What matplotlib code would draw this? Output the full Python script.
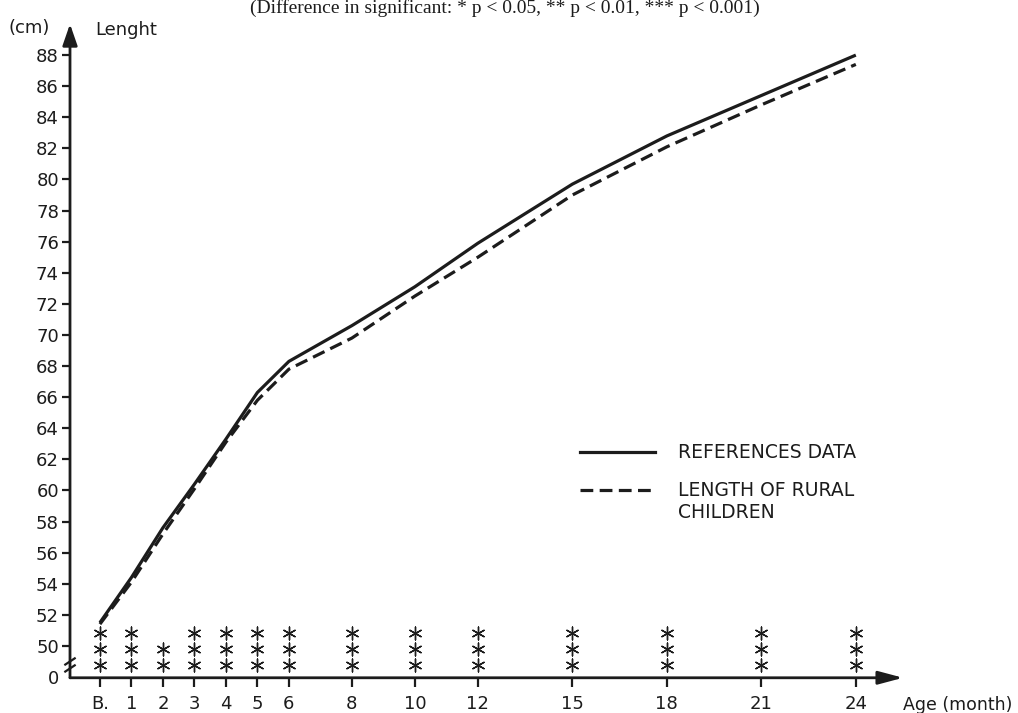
import matplotlib
matplotlib.use("Agg")
import matplotlib.pyplot as plt
from matplotlib.lines import Line2D

# data
months = [0, 1, 2, 3, 4, 5, 6, 8, 10, 12, 15, 18, 21, 24]
month_labels = ["B.", "1", "2", "3", "4", "5", "6", "8", "10", "12", "15", "18", "21", "24"]
reference_len = [51.5, 54.4, 57.6, 60.4, 63.3, 66.3, 68.3, 70.6, 73.1, 75.9, 79.7, 82.8, 85.4, 88.0]
rural_len = [51.4, 54.1, 57.2, 60.1, 63.1, 65.8, 67.8, 69.8, 72.5, 75.0, 79.0, 82.1, 84.8, 87.4]
stars = [3, 3, 2, 3, 3, 3, 3, 3, 3, 3, 3, 3, 3, 3]

y_ticks = list(range(50, 89, 2))

INK = "#1c1c1c"
plt.rcParams["font.family"] = ["DejaVu Sans"]

fig = plt.figure(figsize=(10.18, 7.13), dpi=100)
ax = fig.add_axes([70 / 1018, 1 - 677 / 713, 840 / 1018, 653 / 713])
ax.set_xlim(-0.95, 25.72)
ax.set_ylim(48, 90)

for s in ax.spines.values():
    s.set_visible(False)

# curves
ax.plot(months, reference_len, color=INK, lw=2.3, solid_capstyle="butt")
ax.plot(months, rural_len, color=INK, lw=2.3, dashes=(4, 2))

# significance stars
for m, n in zip(months, stars):
    ys = [48.8 + i * 1.0 for i in range(n)]
    ax.scatter([m] * n, ys, marker=(6, 2, 0), s=85, color=INK, lw=1.0)

# axes with arrows
ax.annotate("", xy=(-0.95, 90.0), xytext=(-0.95, 47.95), annotation_clip=False,
            arrowprops=dict(arrowstyle="-|>,head_length=1.3,head_width=0.45",
                            lw=2, color=INK, shrinkA=0, shrinkB=0))
ax.annotate("", xy=(25.5, 47.95), xytext=(-0.95, 47.95), annotation_clip=False,
            arrowprops=dict(arrowstyle="-|>,head_length=1.5,head_width=0.4",
                            lw=2, color=INK, shrinkA=0, shrinkB=0))

# ticks
ax.set_yticks([48] + y_ticks)
ax.set_yticklabels(["0"] + [str(v) for v in y_ticks], fontsize=13, color=INK)
ax.set_xticks(months)
ax.set_xticklabels(month_labels, fontsize=13, color=INK)
ax.tick_params(axis="y", direction="out", length=6, width=1.6, color=INK, pad=2)
ax.tick_params(axis="x", direction="out", length=7, width=1.6, color=INK, pad=6)
ax.yaxis.get_major_ticks()[0].tick1line.set_visible(False)

# axis break mark
for dy in (0.0, 0.45):
    ax.plot([-1.1, -0.8], [48.35 + dy, 48.75 + dy], color=INK, lw=1.6, clip_on=False)

# labels
fig.text(8 / 1018, 1 - 28 / 713, "(cm)", fontsize=13, color=INK, va="center")
fig.text(95 / 1018, 1 - 30 / 713, "Lenght", fontsize=13, color=INK, va="center")
fig.text(903 / 1018, 1 - 705 / 713, "Age (month)", fontsize=12.5, color=INK, va="center")
fig.text(505 / 1018, 1 - 8 / 713,
         "(Difference in significant: * p < 0.05, ** p < 0.01, *** p < 0.001)",
         fontsize=14, family="Liberation Serif", color=INK, ha="center", va="center")

# legend drawn by hand
fig.add_artist(Line2D([580 / 1018, 655 / 1018], [1 - 452 / 713] * 2,
                      color=INK, lw=2.3))
fig.add_artist(Line2D([580 / 1018, 655 / 1018], [1 - 490 / 713] * 2,
                      color=INK, lw=2.3, dashes=(4, 2)))
fig.text(678 / 1018, 1 - 452 / 713, "REFERENCES DATA", fontsize=13.5, color=INK, va="center")
fig.text(678 / 1018, 1 - 490 / 713, "LENGTH OF RURAL", fontsize=13.5, color=INK, va="center")
fig.text(678 / 1018, 1 - 513 / 713, "CHILDREN", fontsize=13.5, color=INK, va="center")

fig.savefig("out.png", dpi=100)
